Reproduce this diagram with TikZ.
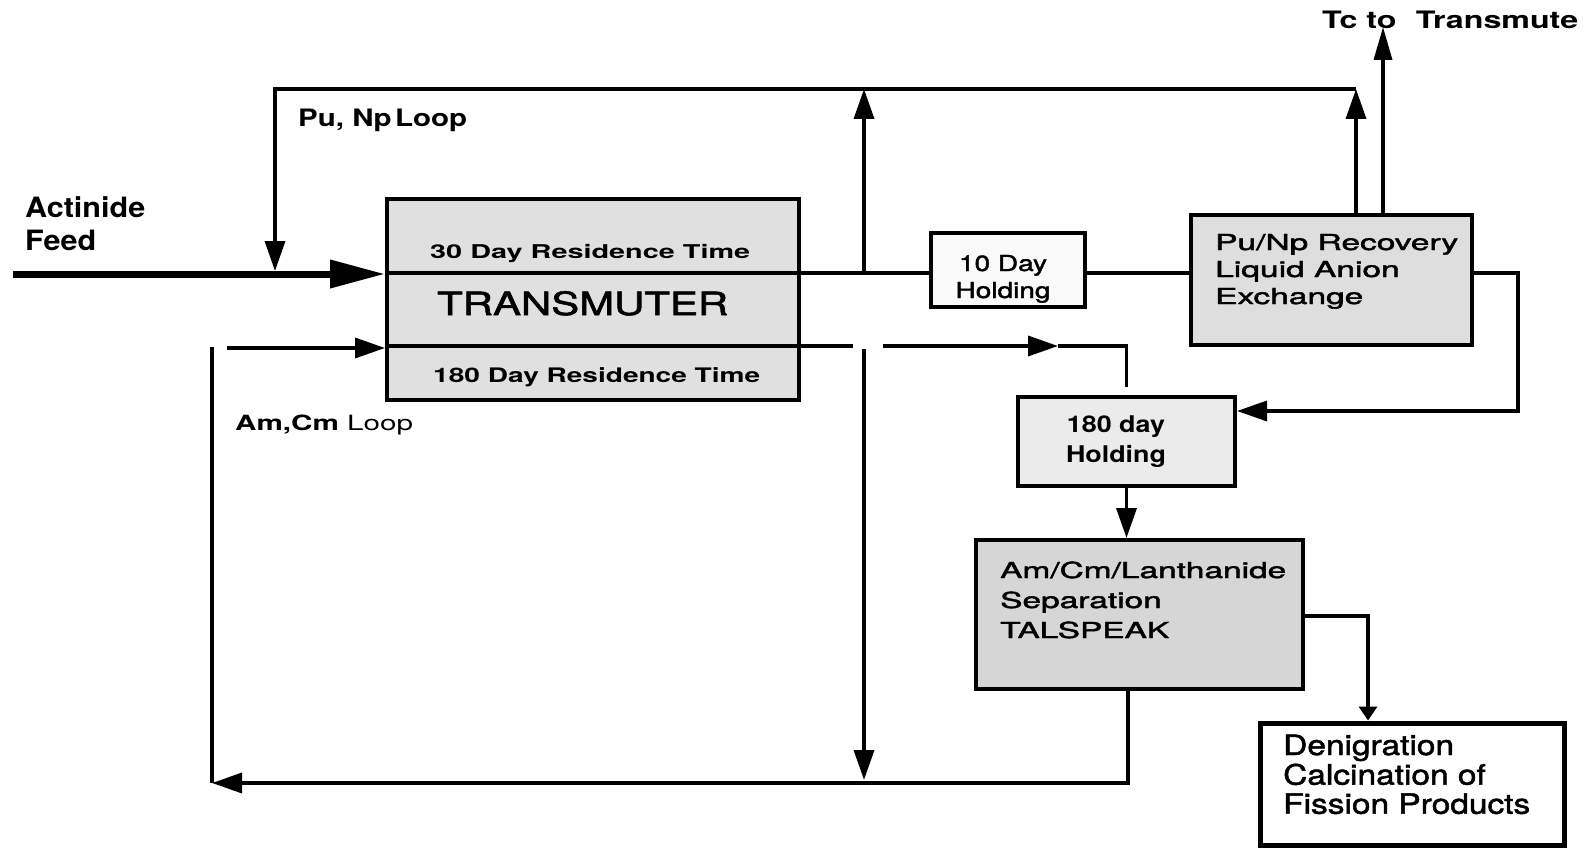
\documentclass[tikz,border=0pt]{standalone}
\usepackage{fontspec}
\setmainfont{TeX Gyre Heros}
\newfontfamily\medfont{TeX Gyre Heros}[FakeBold=1.6]
\usepackage{graphicx}
\usetikzlibrary{arrows.meta}
\newsavebox\fitbox
\newcommand\fitto[2]{\sbox\fitbox{#2}\pgfmathsetmacro\fitfac{#1/\the\wd\fitbox}\scalebox{\fitfac}[1]{\usebox\fitbox}}
\tikzset{
  conn/.style={line width=3.5pt},
  arr/.style={conn,-{Triangle[length=30pt,width=20pt]}},
  arrsmall/.style={conn,-{Triangle[length=14pt,width=18pt]}},
  feedline/.style={line width=7pt,-{Triangle[length=55pt,width=27pt]}},
  box/.style={draw,line width=4pt,rectangle,inner sep=0pt},
  lbl/.style={inner sep=0pt,anchor=base west},
  clbl/.style={inner sep=0pt,anchor=base},
}
\begin{document}
\begin{tikzpicture}[x=1pt,y=-1pt]
\fill[white] (0,0) rectangle (1586,848);
\useasboundingbox (0,0) rectangle (1586,848);

% boxes
\node[box,fill=gray!24,minimum width=412pt,minimum height=201pt] (tm) at (593,299.5) {};
\node[box,fill=gray!4,minimum width=154pt,minimum height=74pt] (hold10) at (1008,270) {};
\node[box,fill=gray!26,minimum width=281pt,minimum height=130pt] (punp) at (1331.5,280) {};
\node[box,fill=gray!16,minimum width=217pt,minimum height=89pt] (hold180) at (1126.5,441.5) {};
\node[box,fill=gray!32,minimum width=327pt,minimum height=149pt] (amcm) at (1139.5,614.5) {};
\node[box,line width=5pt,fill=white,minimum width=304pt,minimum height=122pt] (den) at (1412,784) {};

% transmuter dividers
\coordinate (out) at (0,273);
\coordinate (o2) at (0,346);
\draw[line width=3.5pt] (tm.west |- out) -- (tm.east |- out);
\draw[line width=3.5pt] (tm.west |- o2) -- (tm.east |- o2);

% labels
\node[lbl,font=\bfseries\fontsize{28}{33}\selectfont] (feedlbl) at (25,217)
  {\fitto{120}{\begin{tabular}[t]{@{}l@{}}Actinide\\Feed\end{tabular}}};
\node[lbl,font=\bfseries\fontsize{24}{28}\selectfont] (punplbl) at (298,127)
  {\fitto{169}{Pu, Np\hspace{0.12em}Loop}};
\node[lbl,font=\bfseries\fontsize{24}{28}\selectfont] (tclbl) at (1322,29)
  {\fitto{256}{Tc to\hspace{0.6em}Transmute}};
\node[lbl,font=\bfseries\fontsize{19}{22}\selectfont] (t30) at (430,258)
  {\fitto{320}{30 Day Residence Time}};
\node[lbl,font=\medfont\fontsize{32}{36}\selectfont] (ttm) at (437,315)
  {\fitto{291}{TRANSMUTER}};
\node[lbl,font=\bfseries\fontsize{20}{24}\selectfont] (t180) at (433,382)
  {\fitto{327}{180 Day Residence Time}};
\node[clbl,font=\medfont\fontsize{22}{27}\selectfont] (t10) at (1003,271)
  {\fitto{95}{\begin{tabular}[t]{@{}c@{}}10 Day\\Holding\end{tabular}}};
\node[lbl,font=\medfont\fontsize{22}{27}\selectfont] (tpunp) at (1215,250)
  {\fitto{243}{\begin{tabular}[t]{@{}l@{}}Pu/Np Recovery\\Liquid Anion\\Exchange\end{tabular}}};
\node[clbl,font=\bfseries\fontsize{23}{30}\selectfont] (th180) at (1116,432)
  {\fitto{100}{\begin{tabular}[t]{@{}c@{}}180 day\\Holding\end{tabular}}};
\node[lbl,font=\medfont\fontsize{22}{30}\selectfont] (tamcm) at (1000,578)
  {\fitto{286}{\begin{tabular}[t]{@{}l@{}}Am/Cm/Lanthanide\\Separation\\TALSPEAK\end{tabular}}};
\node[lbl,font=\medfont\fontsize{28}{29}\selectfont] (tden) at (1283,755)
  {\fitto{247}{\begin{tabular}[t]{@{}l@{}}Denigration\\Calcination of\\Fission Products\end{tabular}}};
\node[lbl,font=\fontsize{21}{25}\selectfont] (amcmlbl) at (235,430)
  {\fitto{178}{\textbf{Am,Cm} Loop}};

% feed
\coordinate (feedstart) at (13,274);
\draw[feedline] (feedstart) -- (feedstart -| tm.west);

% Pu, Np loop
\coordinate (topR) at (1356,89);
\coordinate (topL) at (275,89);
\coordinate (tap) at (864,273);
\draw[arr] ([xshift=24.5pt]punp.north) -- (topR);
\draw[arr, shorten >=3pt] (topR) -- (topL) -- (topL |- feedstart);
\draw[arr] (tap) -- (tap |- topL);

% Tc
\coordinate (tcend) at (1383,27);
\draw[conn,-{Triangle[length=33pt,width=18pt]}] ([xshift=51.5pt]punp.north) -- (tcend);

% main output line
\draw[conn] (tm.east |- out) -- (hold10.west |- out);
\draw[conn] (hold10.east |- out) -- (punp.west |- out);

% Pu/Np recovery to 180 day holding
\coordinate (pr1) at (1518,273);
\coordinate (pr2) at (1518,411);
\draw[arr] (punp.east |- out) -- (pr1) -- (pr2) -- (pr2 -| hold180.east);

% 180-day residence output
\coordinate (g1) at (853,346);
\coordinate (g2) at (883,346);
\coordinate (gm) at (1058,346);
\draw[conn] (tm.east |- o2) -- (g1);
\draw[arr] (g2) -- (gm);
\draw[conn] (gm) -- (hold180.north |- o2) -- ([yshift=8pt]hold180.north);

% down branch
\coordinate (d1) at (864,349);
\coordinate (d2) at (864,780);
\draw[arr] (d1) -- (d2);

% 180 holding to separation
\draw[arr] (hold180.south) -- (hold180.south |- amcm.north);

% separation to denigration
\coordinate (dn1) at (1368,616);
\draw[arrsmall] (dn1 -| amcm.east) -- (dn1) -- (dn1 |- den.north);

% Am, Cm loop return
\coordinate (b1) at (1128,783);
\coordinate (b2) at (212,783);
\coordinate (b3) at (212,347);
\coordinate (amin) at (227,348);
\draw[arr] (b1 |- amcm.south) -- (b1) -- (b2);
\draw[conn] (b2) -- (b3);
\draw[arr] (amin) -- (amin -| tm.west);
\end{tikzpicture}
\end{document}
